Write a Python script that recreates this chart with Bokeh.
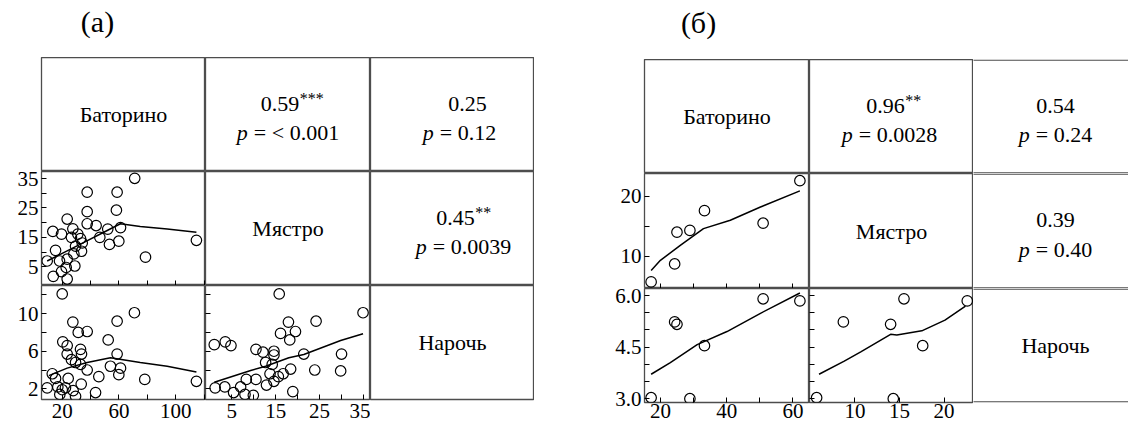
from bokeh.plotting import figure
from bokeh.models import Range1d, LinearAxis, FixedTicker, PrintfTickFormatter
from bokeh.layouts import row, column
from bokeh.core.properties import value
from bokeh.embed import file_html
from bokeh.resources import INLINE

FONT = "Liberation Serif"
EDGE = "#4d4d4d"

# ---------------- data: panel (a) ----------------
a_names = ["Баторино", "Мястро", "Нарочь"]
a_r_bm, a_p_bm, a_s_bm = "0.59", "< 0.001", "***"
a_r_bn, a_p_bn, a_s_bn = "0.25", "0.12", ""
a_r_mn, a_p_mn, a_s_mn = "0.45", "0.0039", "**"

# Мястро (y) vs Баторино (x)
a_bm_x = [71.1, 37.6, 58.7, 37.6, 58.2, 23.5, 37.6, 43.9, 27.5, 13.4, 19.5, 31.0,
          52.1, 61.1, 26.5, 32.9, 46.5, 34.1, 29.4, 59.9, 53.3, 114.6, 15.3, 33.6,
          28.2, 78.7, 9.4, 18.1, 23.5, 28.9, 22.8, 19.5, 13.7, 23.5]
a_bm_y = [35.0, 30.3, 30.3, 23.7, 24.2, 21.2, 19.6, 19.0, 17.9, 17.0, 16.1, 16.1,
          17.8, 18.3, 15.0, 14.6, 15.0, 13.1, 12.0, 13.7, 12.6, 14.0, 10.6, 10.3,
          9.4, 8.3, 7.0, 7.0, 7.6, 5.3, 4.8, 3.4, 1.8, 0.9]
a_bm_lx = [9.4, 20, 35, 50, 61, 75, 94, 114.6]
a_bm_ly = [7.0, 9.6, 13.2, 16.9, 19.6, 18.7, 17.8, 16.7]

# Нарочь (y) vs Баторино (x)
a_bn_x = [20.0, 70.9, 58.7, 27.5, 31.3, 37.6, 20.4, 23.5, 52.4, 32.9, 33.6, 58.7,
          23.5, 26.5, 29.4, 32.9, 54.0, 61.1, 37.6, 13.0, 59.9, 45.8, 15.3, 24.2,
          78.2, 114.6, 33.4, 9.4, 16.9, 22.3, 20.0, 27.7, 18.3, 29.4, 43.5]
a_bn_y = [12.1, 10.1, 9.2, 9.1, 8.0, 8.1, 7.0, 6.6, 7.2, 6.2, 5.7, 5.7,
          5.7, 5.1, 4.8, 4.6, 4.4, 4.2, 4.0, 3.6, 3.5, 3.3, 3.1, 3.1,
          3.0, 2.8, 2.5, 2.1, 2.2, 2.1, 1.9, 1.8, 1.4, 1.2, 1.6]
a_bn_lx = [10.6, 23.5, 37.6, 54, 75, 94, 114.6]
a_bn_ly = [3.4, 4.2, 4.8, 5.3, 4.8, 4.4, 3.8]

# Нарочь (y) vs Мястро (x)
a_mn_x = [15.8, 34.9, 24.2, 17.9, 16.1, 19.5, 18.2, 1.0, 3.5, 4.8, 10.5, 12.1,
          14.6, 14.6, 21.4, 30.0, 12.7, 14.2, 18.4, 23.9, 29.8, 13.7, 16.7, 15.6,
          8.3, 10.5, 7.0, 12.9, 14.6, 1.2, 3.4, 5.4, 8.0, 9.9, 18.9]
a_mn_y = [12.1, 10.1, 9.2, 9.1, 7.9, 8.1, 7.2, 6.7, 7.0, 6.6, 6.2, 5.9,
          6.0, 5.6, 5.7, 5.7, 4.8, 4.6, 4.1, 4.0, 3.9, 3.6, 3.6, 3.3,
          3.0, 3.0, 2.2, 2.4, 2.8, 2.1, 2.2, 1.6, 1.4, 1.3, 1.7]
a_mn_lx = [1.0, 9.3, 12.7, 18.0, 21.4, 29.8, 34.9]
a_mn_ly = [2.7, 3.95, 4.4, 5.3, 5.66, 7.15, 7.87]

a_bat_ticks, a_bat_minor = [20, 60, 100], [40, 80, 120]
a_mya_ticks, a_mya_minor = [5, 15, 25, 35], [10, 20, 30]
a_nar_ticks, a_nar_minor = [2, 6, 10], [4, 8, 12]

# ---------------- data: panel (б) ----------------
b_r_bm, b_p_bm, b_s_bm = "0.96", "0.0028", "**"
b_r_bn, b_p_bn, b_s_bn = "0.54", "0.24", ""
b_r_mn, b_p_mn, b_s_mn = "0.39", "0.40", ""

b_bat = [17.2, 24.3, 25.0, 28.9, 33.3, 51.0, 62.1]
b_mya = [5.7, 8.7, 14.0, 14.3, 17.6, 15.5, 22.6]
b_nar = [3.03, 5.23, 5.16, 3.0, 4.54, 5.9, 5.84]
b_bm_lx = [17.2, 20, 26, 33, 41.1, 50.2, 62.1]
b_bm_ly = [7.6, 9.3, 11.8, 14.6, 16.0, 18.2, 20.9]
b_bn_lx = [17.2, 23, 31.1, 40.1, 50.2, 62.1]
b_bn_ly = [3.71, 4.05, 4.57, 4.95, 5.48, 6.07]
b_mn_lx = [5.97, 8.8, 10.7, 14.0, 14.7, 17.5, 20.1, 22.4]
b_mn_ly = [3.71, 4.09, 4.37, 4.87, 4.85, 4.97, 5.28, 5.69]

b_bat_ticks, b_bat_minor = [20, 40, 60], [30, 50]
b_mya_ticks, b_mya_minor = [10, 20], [15]
b_myax_ticks, b_myax_minor = [10, 15, 20], []
b_nar_ticks, b_nar_minor = [3.0, 4.5, 6.0], [3.5, 4.0, 5.0, 5.5]

# ranges
A_BAT = (5.4, 121.0)
A_MYA_Y = (-1.3, 37.3)
A_MYA_X = (-1.0, 36.6)
A_NAR = (0.86, 13.0)
B_BAT = (15.2, 65.0)
B_MYA_Y = (4.6, 23.8)
B_MYA_X = (4.9, 23.3)
B_NAR = (2.89, 6.2)

# ---------------- helpers ----------------
CW = {'.': 0.25, '=': 0.564, '<': 0.564, ' ': 0.25}


def tw(s, size):
    return sum(CW.get(c, 0.5) for c in s) * size


def base(width, height, xr=(0, 1), yr=(0, 1), ml=0, mb=0, outline=True):
    p = figure(width=width, height=height, x_range=Range1d(*xr), y_range=Range1d(*yr),
               output_backend="svg", toolbar_location=None,
               x_axis_type=None, y_axis_type=None, min_border=0)
    p.min_border_left = ml
    p.min_border_bottom = mb
    p.min_border_top = 0
    p.min_border_right = 0
    if outline:
        p.outline_line_color = EDGE
        p.outline_line_width = 1.3
    else:
        p.outline_line_color = None
        p.outline_line_alpha = 0
        p.outline_line_width = 0
    p.background_fill_color = "white"
    p.border_fill_color = "white"
    return p


def axis(p, side, major, minor, labels, fmt=None, standoff=3):
    ax = LinearAxis()
    if labels:
        ax.ticker = FixedTicker(ticks=major, minor_ticks=minor)
    else:
        ax.ticker = FixedTicker(ticks=[], minor_ticks=list(major) + list(minor))
    ax.axis_line_color = None
    ax.major_tick_in = 5
    ax.major_tick_out = 0
    ax.minor_tick_in = 5
    ax.minor_tick_out = 0
    ax.major_tick_line_color = "black"
    ax.minor_tick_line_color = "black"
    ax.major_label_text_font = FONT
    ax.major_label_text_font_size = "21px"
    ax.major_label_text_color = "black"
    ax.major_label_standoff = standoff if labels else 0
    if fmt:
        ax.formatter = PrintfTickFormatter(format=fmt)
    p.add_layout(ax, side)


def txt(p, s, dx=0, dy=0, size="22px", style="normal", align="center", x=0.5):
    p.text(x=[x], y=[0.5], text=[s], text_font=value(FONT), text_font_size=size,
           text_font_style=style, text_align=align, text_baseline="middle",
           text_color="black", x_offset=dx, y_offset=dy)


def stat_cell(p, r, stars, pv, dx1, dx2, dy1=-11, dy2=18, x=0.5):
    wn = tw(r, 22)
    ws = len(stars) * 0.5 * 16
    left = dx1 - (wn + ws) / 2
    txt(p, r, dx=left, dy=dy1, align="left", x=x)
    if stars:
        txt(p, stars, dx=left + wn + 0.5, dy=dy1 - 5, size="16px", align="left", x=x)
    wp, gap = 11, 6
    wr = tw("= " + pv, 22)
    left2 = dx2 - (wp + gap + wr) / 2
    txt(p, "p", dx=left2, dy=dy2, style="italic", align="left", x=x)
    txt(p, "= " + pv, dx=left2 + wp + gap, dy=dy2, align="left", x=x)


def pts(p, x, y, lx, ly):
    p.line(lx, ly, line_color="black", line_width=1.5)
    p.scatter(x, y, marker="circle", size=10.5, fill_color=None, line_color="black",
              line_width=1.2)


# the right-most column of panel (б) runs past the window edge: its frame is 155 px of
# a 164 px cell; its top and bottom edges are drawn as lines just inside the frame
C3W, C3FULL = 155, 164


def c3_fig(height, mb=0):
    pad = 0.65 / height
    xe = C3W / C3FULL
    p = base(C3W, height + mb, xr=(0, xe), yr=(-pad, 1 + pad), mb=mb, outline=False)
    p.multi_line(xs=[[-0.05, xe + 0.05], [-0.05, xe + 0.05]], ys=[[0, 0], [1, 1]],
                 line_color=EDGE, line_width=1.3)
    return p


# ---------------- panel (a) ----------------
ta = base(534, 57, xr=(0, 534), yr=(0, 57), outline=False)
ta.text(x=[97], y=[36], text=["(a)"], text_font=value(FONT), text_font_size="30px",
        text_align="center", text_baseline="middle", text_color="black")

a11 = base(205, 114, ml=41)
txt(a11, a_names[0])
a12 = base(165, 114)
stat_cell(a12, a_r_bm, a_s_bm, a_p_bm, 4, 0)
a13 = base(164, 114)
stat_cell(a13, a_r_bn, a_s_bn, a_p_bn, 15, 7)

a21 = base(205, 114, xr=A_BAT, yr=A_MYA_Y, ml=41)
axis(a21, "left", a_mya_ticks, a_mya_minor, True)
axis(a21, "below", a_bat_ticks, a_bat_minor, False)
pts(a21, a_bm_x, a_bm_y, a_bm_lx, a_bm_ly)
a22 = base(165, 114)
txt(a22, a_names[1])
a23 = base(164, 114)
stat_cell(a23, a_r_mn, a_s_mn, a_p_mn, 11, 11)

a31 = base(205, 142, xr=A_BAT, yr=A_NAR, ml=41, mb=28)
axis(a31, "left", a_nar_ticks, a_nar_minor, True)
axis(a31, "below", a_bat_ticks, a_bat_minor, True, standoff=4)
pts(a31, a_bn_x, a_bn_y, a_bn_lx, a_bn_ly)
a32 = base(165, 142, xr=A_MYA_X, yr=A_NAR, mb=28)
axis(a32, "left", a_nar_ticks, a_nar_minor, False)
axis(a32, "below", a_mya_ticks, a_mya_minor, True, standoff=4)
pts(a32, a_mn_x, a_mn_y, a_mn_lx, a_mn_ly)
a33 = base(164, 142, mb=28)
txt(a33, a_names[2])

# ---------------- panel (б) ----------------
tb = base(594, 59, xr=(0, 594), yr=(0, 59), outline=False)
tb.text(x=[164], y=[37], text=["(б)"], text_font=value(FONT), text_font_size="30px",
        text_align="center", text_baseline="middle", text_color="black")

b11 = base(275, 114, ml=110)
txt(b11, a_names[0])
b12 = base(164, 114)
stat_cell(b12, b_r_bm, b_s_bm, b_p_bm, 2, -2)
b13 = c3_fig(114)
stat_cell(b13, b_r_bn, b_s_bn, b_p_bn, 0, 0)

b21 = base(275, 115, xr=B_BAT, yr=B_MYA_Y, ml=110)
axis(b21, "left", b_mya_ticks, b_mya_minor, True)
axis(b21, "below", b_bat_ticks, b_bat_minor, False)
pts(b21, b_bat, b_mya, b_bm_lx, b_bm_ly)
b22 = base(164, 115)
txt(b22, a_names[1])
b23 = c3_fig(115)
stat_cell(b23, b_r_mn, b_s_mn, b_p_mn, 0, 0)

b31 = base(275, 139, xr=B_BAT, yr=B_NAR, ml=110, mb=25)
axis(b31, "left", b_nar_ticks, b_nar_minor, True, fmt="%.1f")
axis(b31, "below", b_bat_ticks, b_bat_minor, True, standoff=1)
pts(b31, b_bat, b_nar, b_bn_lx, b_bn_ly)
b32 = base(164, 139, xr=B_MYA_X, yr=B_NAR, mb=25)
axis(b32, "left", b_nar_ticks, b_nar_minor, False)
axis(b32, "below", b_myax_ticks, b_myax_minor, True, standoff=1)
pts(b32, b_mya, b_nar, b_mn_lx, b_mn_ly)
b33 = c3_fig(114, mb=25)
txt(b33, a_names[2])

layout = row(
    column(ta, row(a11, a12, a13), row(a21, a22, a23), row(a31, a32, a33)),
    column(tb, row(b11, b12, b13), row(b21, b22, b23), row(b31, b32, b33)),
)

open("out.html", "w").write(file_html(layout, INLINE))
